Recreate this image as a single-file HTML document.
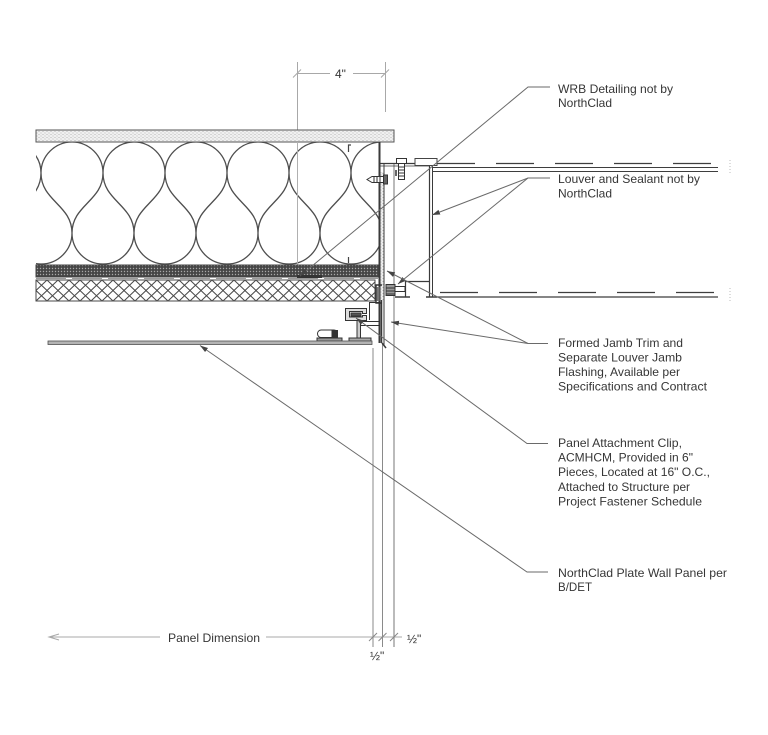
<!DOCTYPE html>
<html><head><meta charset="utf-8"><style>
html,body{margin:0;padding:0;background:#fff;}
svg{display:block}
text{font-family:"Liberation Sans",Arial,sans-serif;fill:#363636;font-size:12px}
</style></head><body>
<svg width="768" height="735" viewBox="0 0 768 735" xmlns="http://www.w3.org/2000/svg">
<defs>
<pattern id="stip" width="4" height="3" patternUnits="userSpaceOnUse"><rect width="4" height="3" fill="#f0f0f0"/><circle cx="1" cy="1" r="0.55" fill="#b0b0b0"/><circle cx="3" cy="2.5" r="0.55" fill="#b0b0b0"/></pattern>
<pattern id="dark" width="3" height="3" patternUnits="userSpaceOnUse"><rect width="3" height="3" fill="#454545"/><circle cx="1.5" cy="1.5" r="0.7" fill="#a8a8a8"/></pattern>
<pattern id="xh" x="36" y="280" width="11" height="10.5" patternUnits="userSpaceOnUse"><rect width="11" height="10.5" fill="#fff"/><path d="M0 0L11 10.5M11 0L0 10.5" stroke="#4a4a4a" stroke-width="1"/></pattern>
<clipPath id="ins"><rect x="36" y="142" width="343" height="123"/></clipPath>
<marker id="ar" markerWidth="8" markerHeight="6" refX="8" refY="3" orient="auto" markerUnits="userSpaceOnUse"><path d="M0,0.5 L8,3 L0,5.5 z" fill="#444"/></marker>
</defs>

<!-- top dimension -->
<g stroke="#a8a8a8" stroke-width="1" fill="none">
<line x1="297.5" y1="62" x2="297.5" y2="272"/>
<line x1="385.5" y1="62" x2="385.5" y2="112"/>
<line x1="297" y1="73.5" x2="330" y2="73.5"/>
<line x1="353" y1="73.5" x2="386" y2="73.5"/>
<line x1="293" y1="77.5" x2="301" y2="69.5"/>
<line x1="381" y1="77.5" x2="389" y2="69.5"/>
</g>
<text x="335" y="78">4"</text>

<!-- top sheathing -->
<rect x="36" y="130" width="358" height="12" fill="url(#stip)" stroke="#555" stroke-width="1"/>

<!-- insulation -->
<g clip-path="url(#ins)">
<path fill="none" stroke="#4e4e4e" stroke-width="1.3" d="M-21 173
A31 31 0 0 1 41 173 C41 201 10 205 10 233 A31 31 0 0 0 72 233 C72 205 41 201 41 173
A31 31 0 0 1 103 173 C103 201 72 205 72 233 A31 31 0 0 0 134 233 C134 205 103 201 103 173
A31 31 0 0 1 165 173 C165 201 134 205 134 233 A31 31 0 0 0 196 233 C196 205 165 201 165 173
A31 31 0 0 1 227 173 C227 201 196 205 196 233 A31 31 0 0 0 258 233 C258 205 227 201 227 173
A31 31 0 0 1 289 173 C289 201 258 205 258 233 A31 31 0 0 0 320 233 C320 205 289 201 289 173
A31 31 0 0 1 351 173 C351 201 320 205 320 233 A31 31 0 0 0 382 233 C382 205 351 201 351 173
A31 31 0 0 1 413 173"/>
</g>
<line x1="297.5" y1="142" x2="297.5" y2="265" stroke="#b0b0b0" stroke-width="1"/>
<!-- stud ticks -->
<g stroke="#444" stroke-width="1.2" fill="none">
<path d="M351 145 H348.5 V152"/>
<path d="M348.5 257 V263"/>
</g>

<!-- dark band -->
<rect x="36" y="265" width="345" height="12" fill="url(#dark)" stroke="#444" stroke-width="1"/>
<line x1="36" y1="278.5" x2="378" y2="278.5" stroke="#999" stroke-width="1" stroke-dasharray="30 6"/>
<rect x="297" y="275" width="25" height="3" fill="#333"/>
<!-- crosshatch -->
<rect x="36" y="280" width="339" height="21" fill="url(#xh)" stroke="#4a4a4a" stroke-width="1"/>

<!-- junction framing -->
<rect x="380" y="172" width="4" height="128" fill="url(#stip)"/>
<g stroke="#3a3a3a" fill="none">
<line x1="379.5" y1="142" x2="379.5" y2="343" stroke-width="2"/>
<line x1="384" y1="163" x2="384" y2="345" stroke-width="1"/>
<line x1="382.5" y1="343" x2="382.5" y2="647" stroke="#8a8a8a" stroke-width="1"/>
<line x1="394" y1="164" x2="394" y2="647" stroke="#777" stroke-width="1"/>
<line x1="373" y1="348" x2="373" y2="647" stroke="#8a8a8a" stroke-width="1"/>
<line x1="380" y1="163.5" x2="437" y2="163.5" stroke-width="1.3"/>
<line x1="380" y1="166" x2="430" y2="166" stroke-width="0.8"/>
<line x1="429.5" y1="166" x2="429.5" y2="297" stroke-width="1.2"/>
<line x1="432.5" y1="166" x2="432.5" y2="297" stroke-width="1"/>
<line x1="405" y1="281.5" x2="430" y2="281.5" stroke-width="1.2"/>
<line x1="405.5" y1="281" x2="405.5" y2="297" stroke-width="1.2"/>
<line x1="395" y1="297" x2="410" y2="297" stroke-width="1.5"/>
<line x1="426" y1="297" x2="437" y2="297" stroke-width="1.5"/>
<line x1="382" y1="343" x2="386" y2="348" stroke-width="1.5"/>
<line x1="381.5" y1="300" x2="381.5" y2="343" stroke-width="1.5"/>
</g>
<!-- louver lines -->
<g stroke="#3e3e3e" fill="none">
<line x1="437" y1="163.5" x2="718" y2="163.5" stroke-dasharray="38 21" stroke-width="1.2"/>
<line x1="432" y1="167.5" x2="718" y2="167.5" stroke-width="1"/>
<line x1="432" y1="171.5" x2="718" y2="171.5" stroke-width="1"/>
<line x1="440" y1="292.5" x2="718" y2="292.5" stroke-dasharray="38 21" stroke-width="1.2"/>
<line x1="437" y1="297" x2="718" y2="297" stroke-width="1.3"/>
</g>
<g stroke="#bbb" stroke-dasharray="1 2">
<line x1="730" y1="160" x2="730" y2="175"/>
<line x1="730" y1="288" x2="730" y2="301"/>
</g>
<!-- sealant -->
<rect x="415" y="158.5" width="22" height="7" fill="#fff" stroke="#444" stroke-width="1"/>
<!-- top bolt -->
<g stroke="#333" stroke-width="1" fill="#fff">
<rect x="396.5" y="158.5" width="10" height="5"/>
<rect x="398.5" y="163.5" width="6" height="16"/>
<path d="M398.5 167H404.5M398.5 170H404.5M398.5 173H404.5M398.5 176H404.5" fill="none"/>
<line x1="396" y1="170" x2="396" y2="176" stroke-width="1.5"/>
<!-- horizontal screw -->
<path d="M367 179.5 L372 176.5 H384 V182.5 H372 Z"/>
<rect x="383.5" y="175" width="4" height="9" fill="#666"/>
<path d="M374 176.5V182.5M377 176.5V182.5M380 176.5V182.5" fill="none"/>
<!-- bottom bolt -->
<rect x="386" y="284.5" width="9" height="11" fill="#999"/>
<path d="M386 288H395M386 291H395M386 294H395" fill="none"/>
<rect x="395" y="286.5" width="10" height="5"/>
<!-- left bracket -->
<path d="M382 285 H376 V303 H382" fill="none" stroke-width="1.4"/>
<rect x="376.5" y="287" width="3" height="14" fill="#777" stroke="none"/>
</g>

<!-- clip -->
<g stroke="#333" stroke-width="1" fill="#fff">
<path d="M369.5 302 V320 M369 302.5 H379" fill="none"/>
<path d="M345.5 308.5 H366.5 V313.5 H362.5 V311.5 H349.5 V317 H362.5 V315.5 H366.5 V320.5 H345.5 Z" fill="#ddd"/>
<rect x="351" y="313" width="10" height="3" fill="#555"/>
<rect x="357" y="320.5" width="3.5" height="19" fill="#ccc"/>
<rect x="349" y="338" width="22" height="3" fill="#aaa"/>
<line x1="360" y1="321.5" x2="380" y2="321.5"/>
<line x1="360" y1="325.5" x2="380" y2="325.5"/>
<!-- pill -->
<rect x="317.5" y="330" width="20" height="7.5" rx="3.7"/>
<rect x="332" y="330.5" width="5.5" height="6.5" fill="#333"/>
<rect x="317" y="338" width="25" height="3" fill="#999"/>
</g>
<!-- panel -->
<rect x="48" y="341" width="324" height="3.5" fill="#b4b4b4" stroke="#505050" stroke-width="0.8"/>

<!-- leaders -->
<g stroke="#6a6a6a" stroke-width="1" fill="none">
<path d="M550 87 H528 L300 276" marker-end="url(#ar)"/>
<path d="M550 178 H528 L432 215" marker-end="url(#ar)"/>
<path d="M528 178 L398 284" marker-end="url(#ar)"/>
<path d="M548 343.5 H528 L387 271" marker-end="url(#ar)"/>
<path d="M528 343.5 L391 322" marker-end="url(#ar)"/>
<path d="M548 443.5 H527 L356 318" marker-end="url(#ar)"/>
<path d="M548 572 H527 L200 345.5" marker-end="url(#ar)"/>
</g>

<!-- labels -->
<text x="558" y="93" textLength="115" lengthAdjust="spacingAndGlyphs">WRB Detailing not by</text>
<text x="558" y="107" textLength="54" lengthAdjust="spacingAndGlyphs">NorthClad</text>
<text x="558" y="183" textLength="142" lengthAdjust="spacingAndGlyphs">Louver and Sealant not by</text>
<text x="558" y="197.5" textLength="54" lengthAdjust="spacingAndGlyphs">NorthClad</text>
<text x="558" y="347" textLength="125" lengthAdjust="spacingAndGlyphs">Formed Jamb Trim and</text>
<text x="558" y="361.5" textLength="124" lengthAdjust="spacingAndGlyphs">Separate Louver Jamb</text>
<text x="558" y="376" textLength="122" lengthAdjust="spacingAndGlyphs">Flashing, Available per</text>
<text x="558" y="390.5" textLength="149" lengthAdjust="spacingAndGlyphs">Specifications and Contract</text>
<text x="558" y="447" textLength="124" lengthAdjust="spacingAndGlyphs">Panel Attachment Clip,</text>
<text x="558" y="461.5" textLength="135" lengthAdjust="spacingAndGlyphs">ACMHCM, Provided in 6"</text>
<text x="558" y="476" textLength="152" lengthAdjust="spacingAndGlyphs">Pieces, Located at 16" O.C.,</text>
<text x="558" y="491" textLength="132" lengthAdjust="spacingAndGlyphs">Attached to Structure per</text>
<text x="558" y="505.5" textLength="144" lengthAdjust="spacingAndGlyphs">Project Fastener Schedule</text>
<text x="558" y="577" textLength="169" lengthAdjust="spacingAndGlyphs">NorthClad Plate Wall Panel per</text>
<text x="558" y="591" textLength="34" lengthAdjust="spacingAndGlyphs">B/DET</text>

<!-- bottom dimension -->
<g stroke="#a8a8a8" stroke-width="1" fill="none">
<line x1="49" y1="637" x2="160" y2="637"/>
<line x1="266" y1="637" x2="402" y2="637"/>
<path d="M59 634 L49 637 L59 640"/>
<line x1="369" y1="641" x2="377" y2="633" stroke="#888"/>
<line x1="378.5" y1="641" x2="386.5" y2="633" stroke="#888"/>
<line x1="390" y1="641" x2="398" y2="633" stroke="#888"/>
</g>
<text x="168" y="642" textLength="92" lengthAdjust="spacingAndGlyphs">Panel Dimension</text>
<text x="407" y="643">½"</text>
<text x="370" y="660">½"</text>
</svg>
</body></html>
